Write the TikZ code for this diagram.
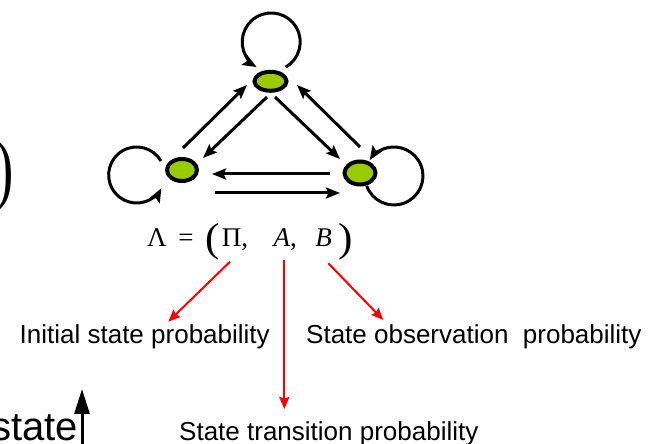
\documentclass[tikz,border=0pt]{standalone}
\usepackage{fontspec}
\setmainfont{Liberation Serif}
\newfontfamily\labelfont{Liberation Sans}
\usetikzlibrary{shapes.geometric,arrows.meta}
\definecolor{stategreen}{RGB}{153,204,0}
\newcommand\tallparen[1]{\raisebox{-0.1em}{\scalebox{1}[1.45]{#1}}}
\newcommand\fparen[1]{\raisebox{-0.155em}{\scalebox{1.6}[1.5]{#1}}}
\begin{document}
\begin{tikzpicture}[x=1pt,y=1pt,
  hmmstate/.style={ellipse, draw=black, line width=4pt, fill=stategreen, inner sep=0pt},
  blackarr/.style={line width=3pt, -{Stealth[length=14pt,width=11pt,inset=2.5pt]}},
  redarr/.style={draw=red, line width=2pt, -{Stealth[length=12pt,width=10pt,inset=1.5pt]}},
  lbl/.style={font=\labelfont\fontsize{26}{30}\selectfont, inner sep=0pt},
]
\useasboundingbox (0,0) rectangle (650,444);

% states
\node[hmmstate, minimum width=32pt, minimum height=19pt] (top) at (270.5,362.7) {};
\node[hmmstate, minimum width=30pt, minimum height=22pt] (left) at (182,274) {};
\node[hmmstate, minimum width=31pt, minimum height=23pt] (right) at (360,271) {};

% self loops
\draw[blackarr] ([shift={(15.2,14.2)}]top.center) arc[start angle=-60, end angle=240, radius=29pt];
\draw[blackarr] ([shift={(-21.1,9)}]left.center) arc[start angle=30, end angle=332, radius=28pt];
\draw[blackarr] ([shift={(6.7,-12.9)}]right.center) arc[start angle=200, end angle=507, radius=29pt];

% transitions
\draw[blackarr] ([shift={(1,22)}]left.center) -- ([shift={(-23.5,-3.7)}]top.center);
\draw[blackarr] ([shift={(-3.5,-15.7)}]top.center) -- ([shift={(21,12)}]left.center);
\draw[blackarr] ([shift={(4.5,-15.7)}]top.center) -- ([shift={(-20,14)}]right.center);
\draw[blackarr] ([shift={(0,26)}]right.center) -- ([shift={(26.5,-3.7)}]top.center);
\draw[blackarr] ([shift={(-30,-1)}]right.center) -- ([shift={(30,-4)}]left.center);
\draw[blackarr] ([shift={(33,-23)}]left.center) -- ([shift={(-20,-20)}]right.center);

% formula
\node[anchor=base west, inner sep=0pt, font=\fontsize{27}{30}\selectfont] (formula) at (147,197)
  {Λ\hspace{11.6pt}=\hspace{11.6pt}\fparen{(}\hspace{2.2pt}Π,\hspace{25.6pt}\textit{A},\hspace{18.6pt}\textit{B}\hspace{6.1pt}\fparen{)}};

% cut-off parenthesis on the left
\node[anchor=east, inner sep=0pt, font=\fontsize{55}{60}\selectfont] (bigparen) at (14.5,268) {\tallparen{)}};

% labels
\node[lbl, anchor=base west] (init) at (19.5,100) {Initial state probability};
\node[lbl, anchor=base west] (obs) at (306,100) {State observation\ \ probability};
\node[lbl, anchor=base west] (trans) at (179,3.3) {State transition probability};
\node[anchor=base east, inner sep=0pt, font=\labelfont\fontsize{40}{44}\selectfont] (statelbl) at (78,3) {state};

% red arrows
\draw[redarr] ([shift={(83,-14.7)}]formula.base west) -- ([shift={(148.8,22.3)}]init.base west);
\draw[redarr] ([shift={(137.3,-13)}]formula.base west) -- ([shift={(105.3,31.7)}]trans.base west);
\draw[redarr] ([shift={(181.3,-16.3)}]formula.base west) -- ([shift={(77.3,24)}]obs.base west);

% state axis arrow
\draw[line width=3pt, -{Triangle[length=25pt,width=15pt]}] ([shift={(4,-3)}]statelbl.base east) -- ([shift={(4,52)}]statelbl.base east);
\end{tikzpicture}
\end{document}
